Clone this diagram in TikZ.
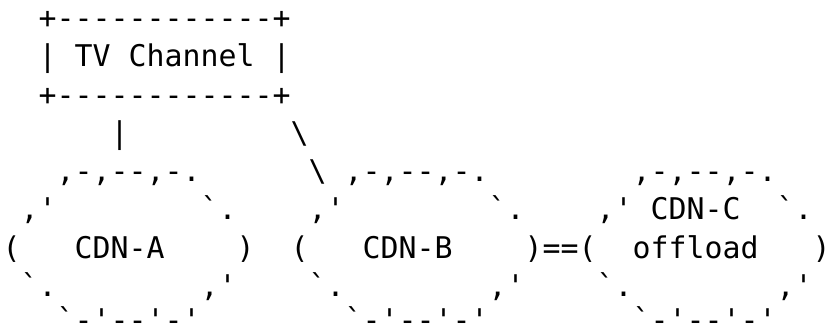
\documentclass[tikz,border=0pt]{standalone}
\usepackage{fontspec}
\setmonofont{DejaVu Sans Mono}
\usepackage{tikz}
\usetikzlibrary{positioning}
\tikzset{
asc/.style  = {font=\ttfamily\fontsize{22.42pt}{28.65pt}\selectfont, inner sep=0pt, outer sep=0pt, anchor=base west},
lbl/.style  = {asc}
}

\begin{document}
\begin{tikzpicture}[x=13.5pt, y=-28.65pt]
  \useasboundingbox (-0.15,-0.754) rectangle (45.794,7.7277);

  % TV channel box
  \node [asc] (tvtop)  at (2,0)  {+------------+};
  \node [asc] (tvmid)  at (2,1)  {| TV Channel |};
  \node [asc] (tvbot)  at (2,2)  {+------------+};

  % links from the channel
  \node [asc] (linka)  at (6,3)  {|};
  \node [asc] (linkb)  at (16,3) {\textbackslash};
  \node [asc] (linkbb) at (17,4) {\textbackslash};

  % CDN-A cloud
  \node [asc] (atop)   at (3,4)  {,-,--,-.};
  \node [asc] (aul)    at (1,5)  {,'};
  \node [asc] (aur)    at (11,5) {`.};
  \node [asc] (al)     at (0,6)  {(};
  \node [lbl] (cdna)   at (4,6)  {CDN-A};
  \node [asc] (ar)     at (13,6) {)};
  \node [asc] (all)    at (1,7)  {`.};
  \node [asc] (alr)    at (11,7) {,'};
  \node [asc] (abot)   at (3,7.9) {`-'--'-'};

  % CDN-B cloud
  \node [asc] (btop)   at (19,4) {,-,--,-.};
  \node [asc] (bul)    at (17,5) {,'};
  \node [asc] (bur)    at (27,5) {`.};
  \node [asc] (bl)     at (16,6) {(};
  \node [lbl] (cdnb)   at (20,6) {CDN-B};
  \node [asc] (br)     at (29,6) {)};
  \node [asc] (bll)    at (17,7) {`.};
  \node [asc] (blr)    at (27,7) {,'};
  \node [asc] (bbot)   at (19,7.9) {`-'--'-'};

  % link B to C
  \node [asc] (linkbc) at (30,6) {==};

  % CDN-C cloud
  \node [asc] (ctop)   at (35,4) {,-,--,-.};
  \node [asc] (cul)    at (33,5) {,'};
  \node [lbl] (cdnc)   at (36,5) {CDN-C};
  \node [asc] (cur)    at (43,5) {`.};
  \node [asc] (cl)     at (32,6) {(};
  \node [lbl] (offl)   at (35,6) {offload};
  \node [asc] (cr)     at (45,6) {)};
  \node [asc] (cll)    at (33,7) {`.};
  \node [asc] (clr)    at (43,7) {,'};
  \node [asc] (cbot)   at (35,7.9) {`-'--'-'};
\end{tikzpicture}
\end{document}
